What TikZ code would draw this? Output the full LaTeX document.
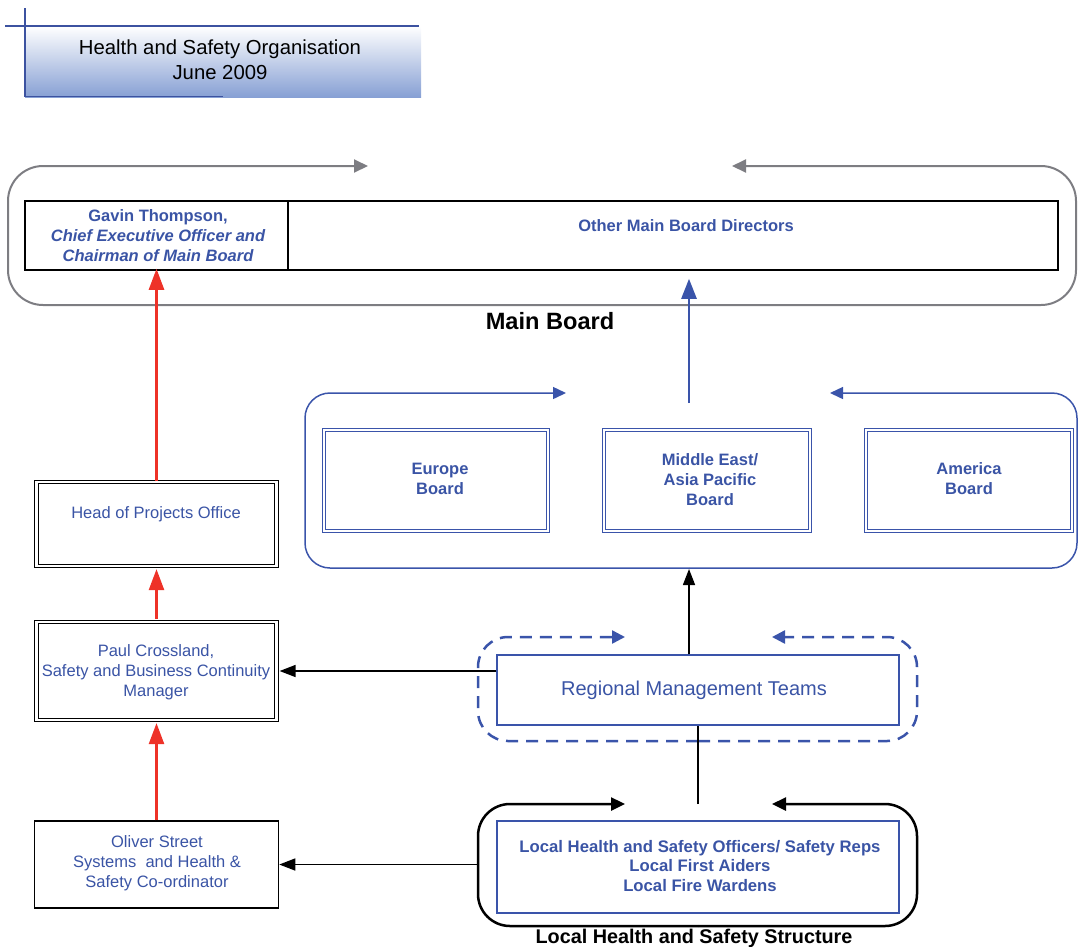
\documentclass[tikz,border=0pt]{standalone}
\usepackage{fontspec}
\setmainfont{Liberation Sans}
\usetikzlibrary{arrows.meta}
\definecolor{tblue}{RGB}{58,84,165}
\definecolor{lblue}{RGB}{58,84,170}
\definecolor{ared}{RGB}{238,50,40}
\definecolor{fgray}{RGB}{125,125,130}
\definecolor{titlebot}{RGB}{135,160,212}
\definecolor{titleline}{RGB}{60,82,160}
\begin{document}
\begin{tikzpicture}[x=1pt,y=-1pt,
  txt/.style={font=\fontsize{16.5}{20}\selectfont, text=tblue, align=center, inner sep=0pt},
  btxt/.style={font=\fontsize{16.5}{20}\selectfont\bfseries, text=tblue, align=center, inner sep=0pt},
  headtxt/.style={font=\fontsize{23.6}{27}\selectfont\bfseries, text=black, inner sep=0pt},
  cell/.style={draw=black, line width=1.5pt, inner sep=0pt},
  dblbox/.style={draw=black, line width=1.2pt, double=white, double distance=2.2pt, inner sep=0pt},
  bdblbox/.style={draw=lblue, line width=1.2pt, double=white, double distance=2.2pt, inner sep=0pt},
  bluebox/.style={draw=lblue, line width=1.5pt, inner sep=0pt},
  grayframe/.style={draw=fgray, line width=2pt, rounded corners=35pt, -{Triangle[length=14pt,width=13pt]}},
  blueframe/.style={draw=lblue, line width=1.5pt, rounded corners=25pt, -{Triangle[length=13pt,width=12pt]}},
  dashframe/.style={draw=lblue, line width=2.5pt, dash pattern=on 12pt off 8pt, rounded corners=30pt, -{Triangle[length=13pt,width=13pt]}},
  blackframe/.style={draw=black, line width=2.5pt, rounded corners=32pt, -{Triangle[length=14pt,width=13pt]}},
  redarrow/.style={draw=ared, line width=2.5pt, -{Triangle[length=21pt,width=15pt]}},
  bluearrow/.style={draw=lblue, line width=2.5pt, -{Triangle[length=20pt,width=15pt]}},
  blackarrow/.style={draw=black, line width=1.5pt, -{Triangle[length=16pt,width=12pt]}},
  titleln/.style={draw=titleline, line width=1.5pt}
]
\useasboundingbox (0,0) rectangle (1078,946);

% ---- title ----
\shade[top color=white, bottom color=titlebot] (25,26) rectangle (421,97);
\draw[titleln] (5,26) -- (419,26);
\draw[titleln] (25,8) -- (25,97);
\draw[titleln] (25,96.5) -- (223,96.5);
\node[font=\fontsize{20.3}{25}\selectfont, text=black, align=center, inner sep=0pt] (title) at (220,60) {Health and Safety Organisation\\June 2009};

% ---- main board ----
\draw[grayframe] (550,305) -- (8,305) -- (8,166) -- (368,166);
\draw[grayframe] (550,305) -- (1076,305) -- (1076,166) -- (732,166);
\node[cell, minimum width=263pt, minimum height=69pt] (gavin) at (156.5,235.5) {};
\node[btxt] (gavintxt) at (158,235.5) {Gavin Thompson,\\ \itshape Chief Executive Officer and\\ \itshape Chairman of Main Board};
\node[cell, minimum width=770pt, minimum height=69pt] (other) at (673,235.5) {};
\node[btxt] (othertxt) at (686,226) {Other Main Board Directors};
\node[headtxt] (mainlbl) at (550,321) {Main Board};

% ---- regional boards ----
\draw[blueframe] (689,568) -- (305,568) -- (305,393) -- (566,393);
\draw[blueframe] (689,568) -- (1077,568) -- (1077,393) -- (830,393);
\node[bdblbox, minimum width=224pt, minimum height=101pt] (europe) at (436,480.5) {};
\node[btxt] (europetxt) at (440,479) {Europe\\Board};
\node[bdblbox, minimum width=206pt, minimum height=101pt] (mideast) at (707,480.5) {};
\node[btxt] (mideasttxt) at (710,480) {Middle East/\\Asia Pacific\\Board};
\node[bdblbox, minimum width=206pt, minimum height=101pt] (america) at (969,480.5) {};
\node[btxt] (americatxt) at (969,479) {America\\Board};
\coordinate (rbtop) at (689,403);
\coordinate (rbbot) at (689,569);
\draw[bluearrow] (rbtop) -- ([yshift=-8pt]rbtop |- other.south);

% ---- left column ----
\node[dblbox, minimum width=240pt, minimum height=84pt] (hopo) at (156.5,524) {};
\node[txt] (hopotxt) at (156,514) {Head of Projects Office};
\node[dblbox, minimum width=240pt, minimum height=98pt] (paul) at (156.5,671) {};
\node[txt] (paultxt) at (156,672) {Paul Crossland,\\Safety and Business Continuity\\Manager};
\node[cell, minimum width=244pt, minimum height=87pt] (oliver) at (156.5,864.5) {};
\node[txt] (olivertxt) at (157,863.5) {Oliver Street\\Systems~ and Health \&\\Safety Co-ordinator};

\draw[redarrow] (hopo.north) -- ([yshift=2pt]gavin.south);
\draw[redarrow, shorten <=2.5pt, shorten >=2.5pt] (paul.north) -- (hopo.south);
\draw[redarrow, shorten >=2.5pt] (oliver.north) -- (paul.south);

% ---- regional management teams ----
\draw[dashframe] (698,741) -- (478,741) -- (478,637) -- (625,637);
\draw[dashframe] (698,741) -- (917,741) -- (917,637) -- (772,637);
\node[bluebox, minimum width=402pt, minimum height=70pt] (rmt) at (698,690) {};
\node[font=\fontsize{20}{24}\selectfont, text=tblue, inner sep=0pt] (rmttxt) at (694,690) {Regional Management Teams};
\draw[blackarrow, shorten >=2.5pt] (rmt.west |- paul.east) -- (paul.east);
\draw[blackarrow] ([xshift=-9pt]rmt.north) -- (rbbot);

% ---- local structure ----
\draw[blackframe] (698,926) -- (478,926) -- (478,804) -- (625,804);
\draw[blackframe] (698,926) -- (917,926) -- (917,804) -- (772,804);
\coordinate (ltop) at (698,804);
\coordinate (lleft) at (478,864.5);
\node[bluebox, minimum width=402pt, minimum height=92pt] (local) at (698,867) {};
\node[btxt, font=\fontsize{16.7}{19.5}\selectfont\bfseries] (localtxt) at (700,866) {Local Health and Safety Officers/ Safety Reps\\Local First Aiders\\Local Fire Wardens};
\node[font=\fontsize{19.8}{23}\selectfont\bfseries, text=black, inner sep=0pt] (locallbl) at (694,938) {Local Health and Safety Structure};
\draw[black, line width=1.5pt] (ltop) -- (rmt.south);
\draw[blackarrow] (lleft) -- (oliver.east);
\end{tikzpicture}
\end{document}
